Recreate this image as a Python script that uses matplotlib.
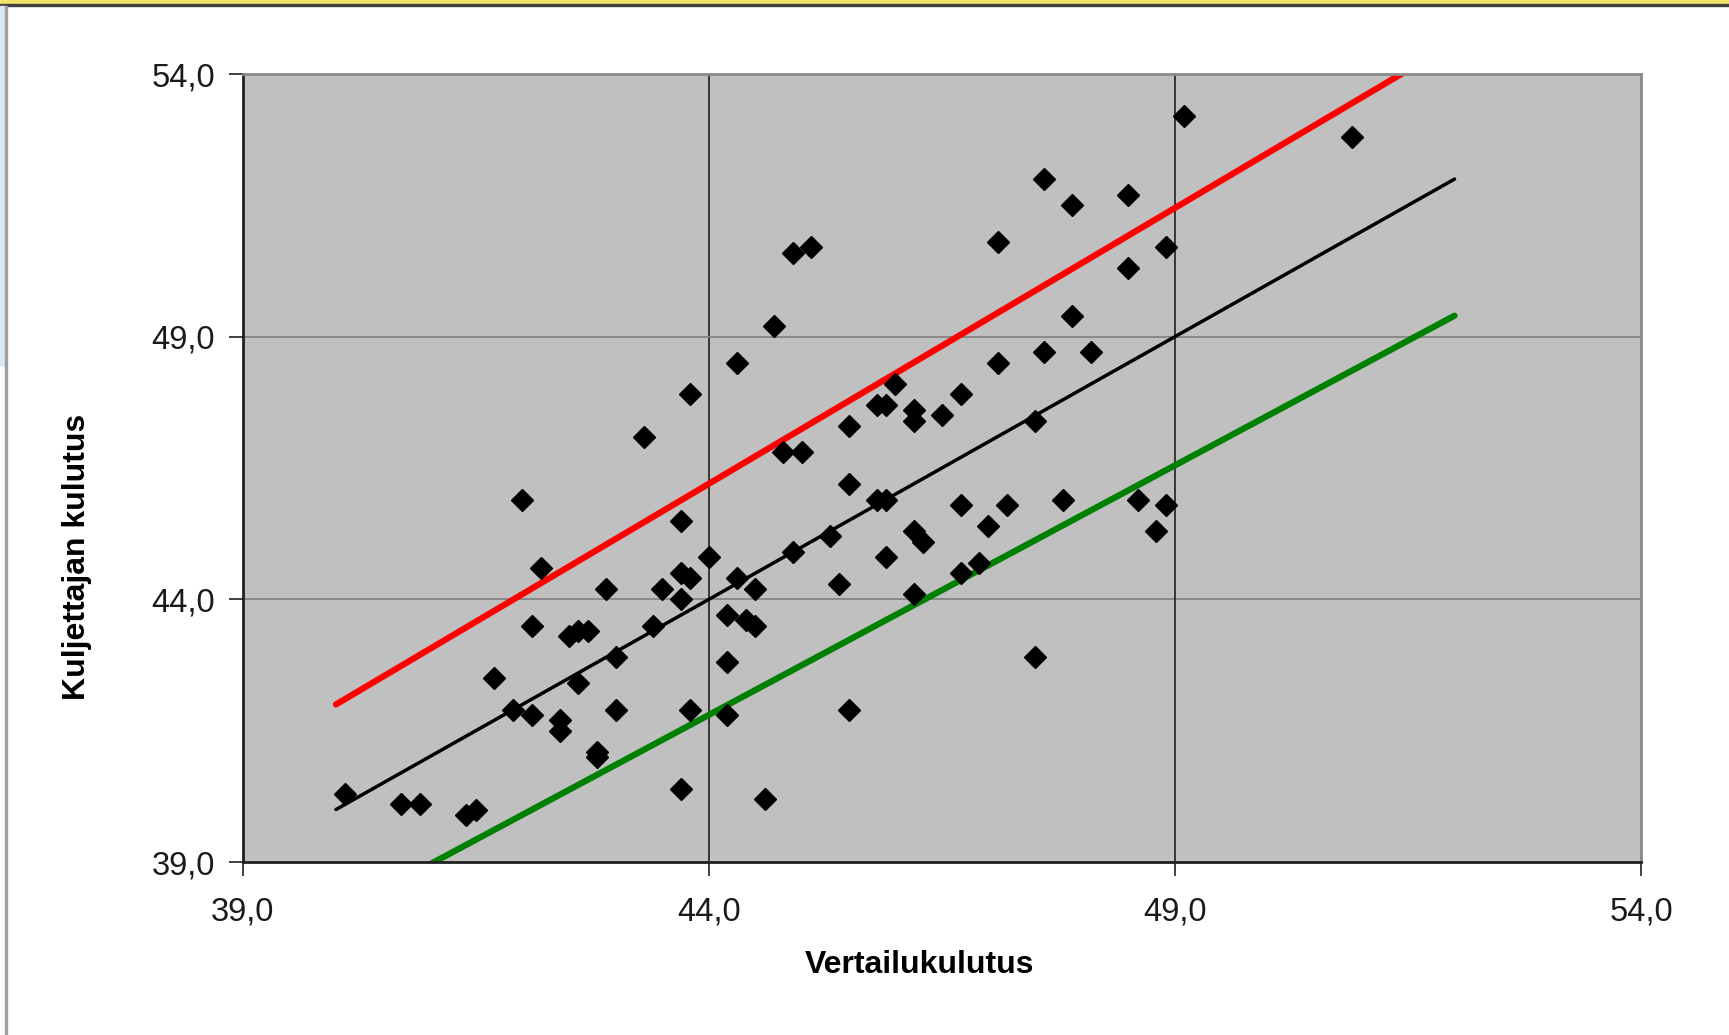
import matplotlib
matplotlib.use("Agg")
import matplotlib.pyplot as plt
import numpy as np

plt.rcParams["font.family"] = ["Liberation Sans", "DejaVu Sans"]

# Vertailukulutus (x) ja kuljettajan kulutus (y)
vertailu = [
    40.1, 40.7, 40.9, 41.4, 41.5, 41.7, 41.9, 42.0, 42.1, 42.1,
    42.2, 42.4, 42.4, 42.5, 42.6, 42.7, 42.6, 42.8, 42.8, 42.9,
    43.0, 43.0, 43.3, 43.4, 43.5, 43.7, 43.7, 43.7, 43.7, 43.8,
    43.8, 43.8, 44.0, 44.2, 44.2, 44.2, 44.3, 44.3, 44.4, 44.5,
    44.5, 44.6, 44.7, 44.8, 44.9, 44.9, 45.0, 45.1, 45.3, 45.4,
    45.5, 45.5, 45.5, 45.8, 45.9, 45.8, 45.9, 45.9, 46.0, 46.2,
    46.2, 46.2, 46.3, 46.2, 46.5, 46.7, 46.7, 46.7, 46.9, 47.0,
    47.1, 47.1, 47.2, 47.5, 47.5, 47.6, 47.6, 47.8, 47.9, 47.9,
    48.1, 48.5, 48.5, 48.6, 48.8, 48.9, 48.9, 49.1, 50.9,
]
kuljettaja = [
    40.3, 40.1, 40.1, 39.9, 40.0, 42.5, 41.9, 45.9, 43.5, 41.8,
    44.6, 41.7, 41.5, 43.3, 43.4, 43.4, 42.4, 41.1, 41.0, 44.2,
    42.9, 41.9, 47.1, 43.5, 44.2, 45.5, 44.5, 44.0, 40.4, 47.9,
    44.4, 41.9, 44.8, 43.7, 42.8, 41.8, 48.5, 44.4, 43.6, 44.2,
    43.5, 40.2, 49.2, 46.8, 50.6, 44.9, 46.8, 50.7, 45.2, 44.3,
    47.3, 46.2, 41.9, 47.7, 47.7, 45.9, 45.9, 44.8, 48.1, 47.6,
    47.4, 45.3, 45.1, 44.1, 47.5, 47.9, 45.8, 44.5, 44.7, 45.4,
    50.8, 48.5, 45.8, 47.4, 42.9, 52.0, 48.7, 45.9, 51.5, 49.4,
    48.7, 51.7, 50.3, 45.9, 45.3, 50.7, 45.8, 53.2, 52.8,
]

# Viivat: y = x sekä +-5 %
viiva_x = [40.0, 52.0]
kertoimet = [1.05, 1.00, 0.95]
varit = ["#ff0000", "#000000", "#008000"]
paksuudet = [4.5, 2.5, 4.5]

fig = plt.figure(figsize=(17.29, 10.35), dpi=100)
ax = fig.add_axes([0.1404, 0.1671, 0.9491 - 0.1404, 0.9285 - 0.1671])
ax.set_facecolor("#c0c0c0")

for k, c, lw in zip(kertoimet, varit, paksuudet):
    ax.plot(viiva_x, [k * v for v in viiva_x], color=c, linewidth=lw,
            solid_capstyle="round", zorder=2)

ax.plot(vertailu, kuljettaja, "D", color="black", markersize=11, zorder=3)

ax.set_xlim(39, 54)
ax.set_ylim(39, 54)
ticks = [39, 44, 49, 54]
ax.set_xticks(ticks)
ax.set_yticks(ticks)
ax.set_xticklabels([f"{t:.1f}".replace(".", ",") for t in ticks], fontsize=23.5)
ax.set_yticklabels([f"{t:.1f}".replace(".", ",") for t in ticks], fontsize=23.5)
ax.tick_params(axis="both", direction="out", length=10, width=1.2,
               color="#202020", labelcolor="#1a1a1a")
ax.tick_params(axis="x", pad=15)
ax.tick_params(axis="y", pad=10)

ax.grid(False)
for t in ticks[1:-1]:
    ax.axvline(t, color="#202020", linewidth=1.2, zorder=1)
    ax.axhline(t, color="#808080", linewidth=1.2, zorder=1)

ax.spines["left"].set_color("#202020")
ax.spines["bottom"].set_color("#202020")
ax.spines["left"].set_linewidth(2)
ax.spines["bottom"].set_linewidth(2)
ax.spines["top"].set_color("#8a8a8a")
ax.spines["right"].set_color("#8a8a8a")
ax.spines["top"].set_linewidth(2)
ax.spines["right"].set_linewidth(2)

fig.text(920 / 1729, 1 - 965 / 1035, "Vertailukulutus", fontsize=23,
         fontweight="bold", ha="center", va="center")
fig.text(77 / 1729, 1 - 557 / 1035, "Kuljettajan kulutus", fontsize=23,
         fontweight="bold", ha="center", va="center", rotation=90)

# ikkunan reunat
fig.patches.append(plt.Rectangle((0, 1 - 4 / 1035), 1, 4 / 1035,
                                 transform=fig.transFigure, color="#f0e468"))
fig.patches.append(plt.Rectangle((0, 1 - 6 / 1035), 1, 2 / 1035,
                                 transform=fig.transFigure, color="#404040"))
fig.patches.append(plt.Rectangle((0, 1 - 365 / 1035), 5 / 1729, 359 / 1035,
                                 transform=fig.transFigure, color="#d8e8f8"))
fig.patches.append(plt.Rectangle((5 / 1729, 0), 1.5 / 1729, 1 - 6 / 1035,
                                 transform=fig.transFigure, color="#a0a0a0"))

fig.savefig("out.png", dpi=100)
